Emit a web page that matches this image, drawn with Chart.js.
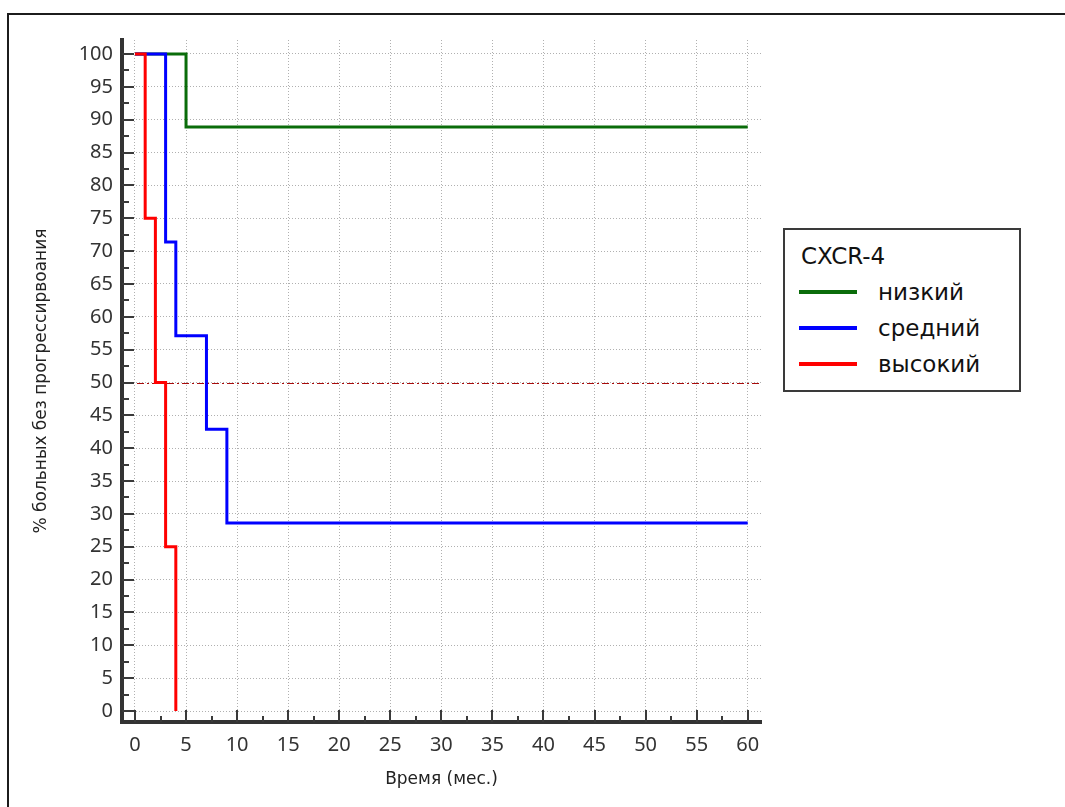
<!DOCTYPE html>
<html>
<head>
<meta charset="utf-8">
<script src="https://cdn.jsdelivr.net/npm/chart.js@4.4.1/dist/chart.umd.min.js"></script>
<style>
    html, body { margin: 0; padding: 0; background: #fff; }
    #wrap { position: relative; width: 1065px; height: 807px; overflow: hidden; }
    #frame {
        position: absolute; left: 7px; top: 13px; width: 1100px; height: 900px;
        border-top: 2px solid #1c1c1c; border-left: 2px solid #1c1c1c;
    }
    #km { position: absolute; left: 0; top: 0; }
    #legend {
        position: absolute; left: 783px; top: 228px; width: 238px; height: 164px;
        box-sizing: border-box; border: 2px solid #3a3a3a; background: #fff;
        padding: 8px 0 0 14px;
        font-family: 'DejaVu Sans', sans-serif; font-size: 23px; color: #111;
    }
    #legend .ttl { height: 36px; line-height: 36px; padding-left: 2px; }
    #legend .row { height: 36px; display: flex; align-items: center; }
    #legend .sw { width: 58px; height: 4px; margin-right: 21px; }
</style>
</head>
<body>
<div id="wrap">
    <div id="frame"></div>
    <canvas id="km" width="1065" height="807"></canvas>
    <div id="legend"></div>
</div>
<script>
// Kaplan-Meier, % без прогрессирования по группам CXCR-4
const LEGEND_TITLE = 'CXCR-4';
const SERIES_NAMES = ['низкий', 'средний', 'высокий'];
const SERIES_COLORS = ['#0a6c0a', '#0000ff', '#ff0000'];

const LOW_TIME = [0, 5, 60];
const LOW_PCT = [100, 88.9, 88.9];
const MID_TIME = [0, 3, 4, 7, 9, 60];
const MID_PCT = [100, 71.4, 57.1, 42.9, 28.6, 28.6];
const HIGH_TIME = [0, 1, 2, 3, 4];
const HIGH_PCT = [100, 75, 50, 25, 0];

const MEDIAN_LEVEL = 50;

const X_TICKS = [0, 5, 10, 15, 20, 25, 30, 35, 40, 45, 50, 55, 60];
const X_MINOR = [2.5, 7.5, 12.5, 17.5, 22.5, 27.5, 32.5, 37.5, 42.5, 47.5, 52.5, 57.5];
const Y_TICKS = [0, 5, 10, 15, 20, 25, 30, 35, 40, 45, 50, 55, 60, 65, 70, 75, 80, 85, 90, 95, 100];
const Y_MINOR = [2.5, 7.5, 12.5, 17.5, 22.5, 27.5, 32.5, 37.5, 42.5, 47.5, 52.5, 57.5, 62.5, 67.5, 72.5, 77.5, 82.5, 87.5, 92.5, 97.5];

const X_TITLE = 'Время (мес.)';
const Y_TITLE = '% больных без прогрессирвоания';

const toPoints = (times, pcts) => times.map((t, i) => ({ x: t, y: pcts[i] }));
const SERIES_DATA = [
    toPoints(LOW_TIME, LOW_PCT),
    toPoints(MID_TIME, MID_PCT),
    toPoints(HIGH_TIME, HIGH_PCT)
];

// dash-dot line at 50%
const medianLine = {
    id: 'medianLine',
    beforeDatasetsDraw(chart) {
        const { ctx, chartArea: a, scales: { y } } = chart;
        const py = Math.round(y.getPixelForValue(MEDIAN_LEVEL)) + 0.5;
        ctx.save();
        ctx.strokeStyle = '#a80c0c';
        ctx.lineWidth = 1;
        ctx.setLineDash([7, 3, 2, 3]);
        ctx.beginPath();
        ctx.moveTo(a.left, py);
        ctx.lineTo(a.right, py);
        ctx.stroke();
        ctx.restore();
    }
};

// tick marks pointing into the plot
const innerTicks = {
    id: 'innerTicks',
    beforeDatasetsDraw(chart) {
        const { ctx, chartArea: a, scales: { x, y } } = chart;
        ctx.save();
        ctx.strokeStyle = '#3a3a3a';
        ctx.lineWidth = 2;
        ctx.beginPath();
        const xt = (v, len) => {
            const px = Math.round(x.getPixelForValue(v));
            ctx.moveTo(px, a.bottom);
            ctx.lineTo(px, a.bottom - len);
        };
        const yt = (v, len) => {
            const py = Math.round(y.getPixelForValue(v));
            ctx.moveTo(a.left, py);
            ctx.lineTo(a.left + len, py);
        };
        X_TICKS.forEach(v => xt(v, 12));
        X_MINOR.forEach(v => xt(v, 6));
        Y_TICKS.forEach(v => yt(v, 12));
        Y_MINOR.forEach(v => yt(v, 7));
        ctx.stroke();
        ctx.restore();
    }
};

const tickFont = { family: "'Noto Sans', sans-serif", size: 20 };
const titleFont = { family: "'DejaVu Sans', sans-serif", size: 17 };
const gridOpts = { color: '#b0b0b0', lineWidth: 1, drawTicks: false };
const borderOpts = { display: true, color: '#333', width: 4, dash: [1, 2] };

new Chart(document.getElementById('km'), {
    type: 'line',
    data: {
        datasets: SERIES_NAMES.map((name, i) => ({
            label: name,
            data: SERIES_DATA[i],
            borderColor: SERIES_COLORS[i],
            backgroundColor: SERIES_COLORS[i],
            borderWidth: 3,
            stepped: true,
            pointRadius: 0,
            fill: false,
            order: SERIES_NAMES.length - i
        }))
    },
    options: {
        responsive: false,
        animation: false,
        layout: { padding: { top: 40, right: 304, left: 0, bottom: 0 } },
        plugins: {
            legend: { display: false },
            tooltip: { enabled: false }
        },
        scales: {
            x: {
                type: 'linear',
                min: -1.27,
                max: 61.3,
                afterBuildTicks: s => { s.ticks = X_TICKS.map(v => ({ value: v })); },
                afterFit: s => { s.height = 85; },
                grid: gridOpts,
                border: borderOpts,
                ticks: { padding: 11, color: '#333', font: tickFont, maxRotation: 0, autoSkip: false },
                title: { display: true, text: X_TITLE, color: '#222', font: titleFont, padding: { top: 0, bottom: 17 } }
            },
            y: {
                type: 'linear',
                min: -1.67,
                max: 102.13,
                afterBuildTicks: s => { s.ticks = Y_TICKS.map(v => ({ value: v })); },
                afterFit: s => { s.width = 122; },
                grid: gridOpts,
                border: borderOpts,
                ticks: { padding: 9, color: '#333', font: tickFont, autoSkip: false },
                title: { display: true, text: Y_TITLE, color: '#222', font: titleFont, padding: { top: 31, bottom: 0 } }
            }
        }
    },
    plugins: [medianLine, innerTicks]
});

// legend box
const legend = document.getElementById('legend');
legend.innerHTML = `<div class="ttl">${LEGEND_TITLE}</div>` +
    SERIES_NAMES.map((name, i) =>
        `<div class="row"><span class="sw" style="background:${SERIES_COLORS[i]}"></span><span>${name}</span></div>`
    ).join('');
</script>
</body>
</html>
